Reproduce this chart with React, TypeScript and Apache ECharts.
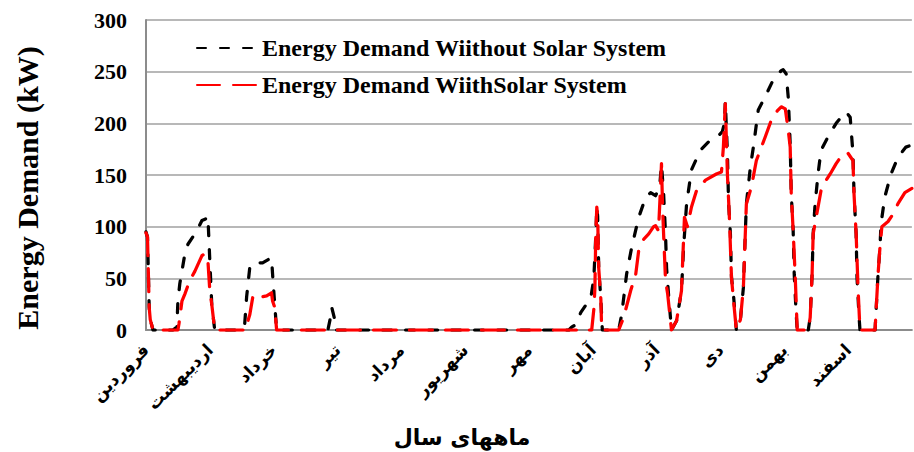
import React, { useEffect, useRef } from "react";
import * as echarts from "echarts";

const monthNames = ["فروردین", "اردیبهشت", "خرداد", "تیر", "مرداد", "شهریور", "مهر", "آبان", "آذر", "دی", "بهمن", "اسفند"];
const yTicks = [0, 50, 100, 150, 200, 250, 300];
const seriesNames = ["Energy Demand Wiithout Solar System", "Energy Demand WiithSolar System"];

// [day of year (30-day months), kW]
const withoutSolar: [number, number][] = [
  [0, 95], [0.7, 90], [1.5, 22], [2, 10], [3.3, 0], [12.7, 0], [14.5, 3], [15, 28], [15.9, 45], [16.9, 57],
  [18.3, 74], [19.7, 83], [23.9, 96], [26.3, 106], [28.6, 108], [29.1, 110], [30, 67], [30.9, 25], [32.3, 0],
  [45, 0], [46.4, 6], [47.3, 32], [48.8, 61], [50.2, 65], [54.8, 65], [58.1, 69], [59, 70], [59.5, 54], [60.5, 25], [61.4, 0],
  [85.5, 0], [86.5, 10], [87.3, 22], [88.5, 12], [89, 0],
  [198.8, 0], [200.2, 3], [202, 5], [204.4, 17], [206.7, 24], [209, 30], [210.5, 50], [211.4, 90], [211.9, 119], [212.3, 110],
  [212.8, 60], [213.8, 30], [214.5, 0],
  [222.2, 0], [223.6, 15], [225.9, 54], [228.3, 80], [231.6, 109], [234.8, 128], [237.2, 133], [239.5, 130], [241.4, 138],
  [242.3, 160], [243.3, 132], [244.2, 93], [244.7, 60], [245.6, 35], [247, 0],
  [249.4, 9], [251.7, 38], [252.7, 80], [254.1, 122], [256.4, 155], [260.6, 174], [264.4, 182], [269.1, 188], [270.9, 192],
  [271.9, 200], [272.3, 221], [273.3, 171], [273.8, 125], [274.7, 93], [275.2, 51], [276.1, 35], [277.5, 0],
  [279.4, 10], [280.8, 41], [282.2, 122], [284.1, 158], [285.5, 177], [287.8, 213], [291.1, 226], [294.8, 242], [298.6, 251],
  [299.5, 252], [300.9, 248], [301.9, 225], [302.8, 180], [303.3, 132], [304.2, 96], [304.7, 54], [305.6, 16], [306.1, 0],
  [311.3, 0], [312.2, 12], [313.1, 54], [313.6, 93], [314.5, 122], [315.9, 151], [317.3, 174], [320.6, 187], [324.4, 200],
  [327.2, 207], [329.1, 211], [331, 206], [332.3, 171], [332.8, 132], [333.8, 93], [334.2, 51], [335.2, 12], [335.6, 0],
  [342.7, 0], [343.1, 16], [344.1, 54], [345, 80], [345.5, 103], [347.3, 129], [350.2, 151], [353.4, 167], [357.2, 177], [360, 179],
];

const withSolar: [number, number][] = [
  [0, 94], [0.7, 90], [1.5, 22], [2, 10], [3.3, 0], [15, 0], [15.5, 6], [16.9, 28], [18.3, 35], [20.6, 48], [23, 57],
  [26.3, 72], [27.7, 74], [29.1, 67], [30, 38], [30.9, 25], [32.3, 0],
  [47, 0], [47.5, 6], [48.8, 15], [50.2, 32], [52, 35], [54.4, 32], [56.7, 33], [59, 36], [59.5, 28], [60.5, 22], [61.4, 0],
  [209.5, 0], [210.5, 20], [211, 40], [211.4, 90], [211.9, 119], [212.3, 110], [212.8, 60], [213.8, 30], [214.2, 0],
  [222.2, 0], [224.5, 12], [227.8, 38], [230.2, 54], [231.6, 77], [234, 88], [236.3, 93], [238.6, 100], [239.5, 101],
  [240.9, 96], [241.9, 140], [242.3, 161], [242.8, 120], [243.3, 93], [244.2, 48], [245.2, 35], [247, 0],
  [249.4, 9], [251.7, 38], [253.1, 109], [254.5, 100], [256.4, 119], [258.8, 135], [263, 145], [268.1, 151], [270.5, 153],
  [271.4, 177], [272.3, 219], [273.3, 150], [274.2, 110], [275.2, 51], [276.1, 30], [277.5, 0],
  [279.4, 10], [280.8, 41], [282.2, 122], [284.5, 138], [286.9, 164], [291.1, 187], [293.9, 203], [296.7, 212], [298.6, 216],
  [300.5, 214], [301.9, 193], [302.8, 177], [303.3, 132], [304.2, 96], [305.2, 50], [306.1, 0],
  [311.3, 0], [312.2, 12], [313.1, 54], [313.6, 93], [315, 109], [317.3, 135], [319.7, 145], [321.6, 151], [324.4, 161],
  [327.7, 171], [330, 171], [332.3, 164], [332.8, 132], [333.8, 93], [334.7, 40], [335.6, 0],
  [342.7, 0], [343.1, 16], [344.1, 54], [345, 80], [345.9, 100], [348.8, 105], [351.1, 112], [353.4, 122], [356.7, 133], [360, 137],
];

export default function App() {
  const ref = useRef<HTMLDivElement>(null);
  useEffect(() => {
    if (!ref.current) return;
    const chart = echarts.init(ref.current, undefined, { renderer: "svg" });
    const serif = "'Liberation Serif', 'Times New Roman', serif";
    chart.setOption({
      animation: false,
      grid: { left: 146, right: 0, top: 20, bottom: 122 },
      legend: {
        orient: "vertical",
        left: 191,
        top: 31,
        itemWidth: 60,
        itemHeight: 14,
        itemGap: 13,
        data: seriesNames,
        itemStyle: { opacity: 0 },
        textStyle: { fontFamily: serif, fontWeight: "bold", fontSize: 24, color: "#000", lineHeight: 24 },
      },
      xAxis: {
        type: "value",
        min: 0,
        max: 360,
        interval: 30,
        axisLine: { show: true, lineStyle: { color: "#8c8c8c", width: 2 } },
        axisTick: { show: false },
        splitLine: { show: false },
        axisLabel: {
          rotate: 45,
          margin: 17,
          fontFamily: "'DejaVu Sans', sans-serif",
          fontWeight: "bold",
          fontSize: 17,
          color: "#000",
          formatter: (v: number) => monthNames[Math.round(v / 30)] ?? "",
        },
      },
      yAxis: {
        type: "value",
        min: yTicks[0],
        max: yTicks[yTicks.length - 1],
        interval: 50,
        axisLine: { show: true, lineStyle: { color: "#8c8c8c", width: 2 } },
        axisTick: { show: false },
        splitLine: { lineStyle: { color: "#a0a0a0", width: 1.5 } },
        axisLabel: { margin: 19, fontFamily: serif, fontWeight: "bold", fontSize: 22, color: "#000" },
      },
      series: [
        {
          name: seriesNames[0],
          type: "line",
          data: withoutSolar,
          symbol: "none",
          itemStyle: { color: "#000" },
          lineStyle: { color: "#000", width: 3.25, type: [9, 14], cap: "round", join: "round" },
        },
        {
          name: seriesNames[1],
          type: "line",
          data: withSolar,
          symbol: "none",
          itemStyle: { color: "#ff0000" },
          lineStyle: { color: "#ff0000", width: 3.25, type: [23, 13], cap: "round", join: "round" },
        },
      ],
      graphic: [
        {
          type: "text",
          x: 27,
          y: 188,
          rotation: Math.PI / 2,
          style: {
            text: "Energy Demand (kW)",
            fontFamily: serif,
            fontWeight: "bold",
            fontSize: 30,
            fill: "#000",
            textAlign: "center",
            textVerticalAlign: "middle",
          },
        },
        {
          type: "text",
          x: 462,
          y: 437,
          style: {
            text: "ماههای سال",
            fontFamily: "'DejaVu Sans', sans-serif",
            fontWeight: "bold",
            fontSize: 22,
            fill: "#000",
            textAlign: "center",
            textVerticalAlign: "middle",
          },
        },
      ],
    });
    return () => chart.dispose();
  }, []);
  return <div ref={ref} style={{ position: "fixed", left: 0, top: 0, width: 914, height: 452, background: "#fff" }} />;
}
